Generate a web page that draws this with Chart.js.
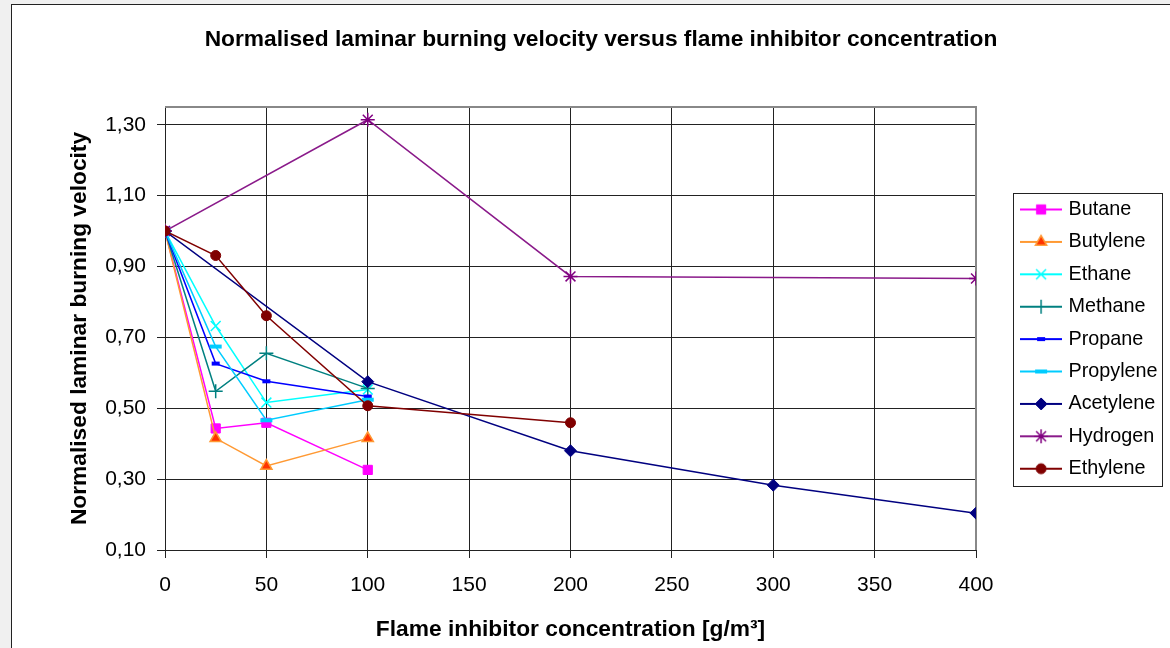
<!DOCTYPE html>
<html>
<head>
<meta charset="utf-8">
<script src="https://cdn.jsdelivr.net/npm/chart.js@4/dist/chart.umd.min.js"></script>
<style>
  html, body { margin: 0; padding: 0; background: #f0f0f0; overflow: hidden; width: 1170px; height: 648px; }
  #wrap { position: absolute; left: 11px; top: 4px; width: 1200px; height: 700px; background: #fff; border: 1px solid #222; }
  #chart { position: absolute; left: 0; top: 0; width: 1178px; height: 643px; }
</style>
</head>
<body>
<div id="wrap"><canvas id="chart" width="1178" height="643"></canvas></div>
<script>
// x positions (g/m3) per group of series
const xShort = [0, 25, 50, 100];
const xAcetylene = [0, 100, 200, 300, 400];
const xHydrogen = [0, 100, 200, 400];
const xEthylene = [0, 25, 50, 100, 200];

// normalised burning velocities
const butane = [1.00, 0.443, 0.459, 0.326];
const butylene = [1.00, 0.415, 0.337, 0.415];
const ethane = [1.00, 0.732, 0.516, 0.553];
const methane = [1.00, 0.548, 0.655, 0.556];
const propane = [1.00, 0.626, 0.576, 0.533];
const propylene = [1.00, 0.674, 0.466, 0.524];
const acetylene = [1.00, 0.575, 0.380, 0.283, 0.204];
const hydrogen = [1.00, 1.314, 0.872, 0.866];
const ethylene = [1.00, 0.931, 0.761, 0.507, 0.459];

const seriesNames = ['Butane', 'Butylene', 'Ethane', 'Methane', 'Propane', 'Propylene', 'Acetylene', 'Hydrogen', 'Ethylene'];
const xTicks = [0, 50, 100, 150, 200, 250, 300, 350, 400];
const yTicks = [0.10, 0.30, 0.50, 0.70, 0.90, 1.10, 1.30];

const seriesX = [xShort, xShort, xShort, xShort, xShort, xShort, xAcetylene, xHydrogen, xEthylene];
const seriesY = [butane, butylene, ethane, methane, propane, propylene, acetylene, hydrogen, ethylene];

// look of each series (line colour, marker)
const styles = [
    { line: '#ff00ff', fill: '#ff00ff', edge: '#ff00ff', shape: 'rect', r: 6.5, bw: 1 },
    { line: '#ff9933', fill: '#ff3300', edge: '#ff9933', shape: 'triangle', r: 6.5, bw: 1.5 },
    { line: '#00ffff', fill: '#00ffff', edge: '#00ffff', shape: 'crossRot', r: 7, bw: 1.5 },
    { line: '#008080', fill: '#008080', edge: '#008080', shape: 'cross', r: 7, bw: 1.5 },
    { line: '#0000ff', fill: '#0000ff', edge: '#0000ff', shape: 'line', r: 4, bw: 4 },
    { line: '#00ccff', fill: '#00ccff', edge: '#00ccff', shape: 'line', r: 6, bw: 4 },
    { line: '#000080', fill: '#000080', edge: '#000080', shape: 'rectRot', r: 6, bw: 1 },
    { line: '#8a1a8a', fill: '#800080', edge: '#800080', shape: 'star', r: 7, bw: 1.5 },
    { line: '#800000', fill: '#800000', edge: '#800000', shape: 'circle', r: 5, bw: 1 }
];

const fontFamily = "'Liberation Sans', Arial, sans-serif";
Chart.defaults.font.family = fontFamily;
Chart.defaults.color = '#000';

// legend icon: short line with the marker in the middle
function makeIcon(s) {
    const c = document.createElement('canvas');
    c.width = 42;
    c.height = 20;
    const g = c.getContext('2d');
    g.strokeStyle = s.line;
    g.lineWidth = 2;
    g.beginPath();
    g.moveTo(0, 10);
    g.lineTo(42, 10);
    g.stroke();
    g.fillStyle = s.fill;
    g.strokeStyle = s.edge;
    g.lineWidth = s.bw;
    Chart.helpers.drawPoint(g, { pointStyle: s.shape, radius: s.r, borderWidth: s.bw, rotation: 0 }, 21, 10);
    return c;
}
const icons = styles.map(makeIcon);

const datasets = seriesNames.map((name, i) => ({
    label: name,
    data: seriesX[i].map((x, k) => ({ x: x, y: seriesY[i][k] })),
    borderColor: styles[i].line,
    backgroundColor: styles[i].fill,
    borderWidth: 1.5,
    pointStyle: styles[i].shape,
    pointRadius: styles[i].r,
    pointBorderColor: styles[i].edge,
    pointBackgroundColor: styles[i].fill,
    pointBorderWidth: styles[i].bw,
    tension: 0,
    fill: false,
    order: seriesNames.length - 1 - i
}));

const legendFrame = { left: 1001, top: 188, right: 1150, bottom: 481 };

const frames = {
    id: 'frames',
    afterLayout(chart) {
        // title centred on the whole box, legend where the picture has it
        const tb = chart.titleBlock;
        tb.left = 0;
        tb.right = chart.width;
        tb.width = chart.width;
        const lg = chart.legend;
        lg.left = 999;
        lg.right = legendFrame.right;
        lg.top = 182;
        lg.bottom = 540;
        lg.width = lg.right - lg.left;
        lg.height = lg.bottom - lg.top;
    },
    beforeDatasetsDraw(chart) {
        const { ctx, chartArea: a } = chart;
        ctx.save();
        ctx.strokeStyle = '#888';
        ctx.lineWidth = 2;
        ctx.beginPath();
        ctx.moveTo(a.left, a.top);
        ctx.lineTo(a.right, a.top);
        ctx.lineTo(a.right, a.bottom);
        ctx.stroke();
        ctx.restore();
    },
    afterDraw(chart) {
        const ctx = chart.ctx;
        ctx.save();
        ctx.strokeStyle = '#222';
        ctx.lineWidth = 1;
        ctx.strokeRect(legendFrame.left + 0.5, legendFrame.top + 0.5,
            legendFrame.right - legendFrame.left, legendFrame.bottom - legendFrame.top);
        ctx.restore();
    }
};

new Chart(document.getElementById('chart'), {
    type: 'line',
    data: { datasets: datasets },
    plugins: [frames],
    options: {
        responsive: false,
        animation: false,
        events: [],
        layout: { padding: { left: 0, top: 0, right: 84, bottom: 0 } },
        scales: {
            x: {
                type: 'linear',
                min: 0,
                max: 400,
                afterBuildTicks: (s) => { s.ticks = xTicks.map(v => ({ value: v })); },
                afterFit: (s) => { s.height = 98; },
                ticks: { font: { size: 21 }, color: '#000', padding: 15, callback: (v) => String(v) },
                grid: { color: '#222', lineWidth: 1, tickLength: 8, tickColor: '#222' },
                border: { color: '#222', width: 1 },
                title: {
                    display: true,
                    text: 'Flame inhibitor concentration [g/m³]',
                    font: { size: 22.75, weight: 'bold' },
                    color: '#000',
                    padding: { top: 0, bottom: 5 }
                }
            },
            y: {
                type: 'linear',
                min: 0.10,
                max: 1.35,
                afterBuildTicks: (s) => { s.ticks = yTicks.map(v => ({ value: v })); },
                afterFit: (s) => { s.width = 153; },
                ticks: {
                    font: { size: 21 },
                    color: '#000',
                    padding: 11,
                    callback: (v) => Number(v).toFixed(2).replace('.', ',')
                },
                grid: { color: '#222', lineWidth: 1, tickLength: 8, tickColor: '#222' },
                border: { color: '#222', width: 1 },
                title: {
                    display: true,
                    text: 'Normalised laminar burning velocity',
                    font: { size: 22.75, weight: 'bold' },
                    color: '#000',
                    padding: { top: 54, bottom: 0 }
                }
            }
        },
        plugins: {
            title: {
                display: true,
                text: 'Normalised laminar burning velocity versus flame inhibitor concentration',
                font: { size: 22.75, weight: 'bold' },
                color: '#000',
                padding: { top: 21, bottom: 53.7 }
            },
            legend: {
                display: true,
                position: 'right',
                align: 'start',
                fullSize: false,
                maxWidth: 130,
                labels: {
                    usePointStyle: true,
                    pointStyleWidth: 35,
                    padding: 12.6,
                    color: '#000',
                    font: { size: 19.8 },
                    sort: (a, b) => a.datasetIndex - b.datasetIndex,
                    generateLabels: (chart) => {
                        const items = Chart.defaults.plugins.legend.labels.generateLabels(chart);
                        items.forEach(it => { it.pointStyle = icons[it.datasetIndex]; });
                        return items;
                    }
                }
            },
            tooltip: { enabled: false }
        }
    }
});
</script>
</body>
</html>
